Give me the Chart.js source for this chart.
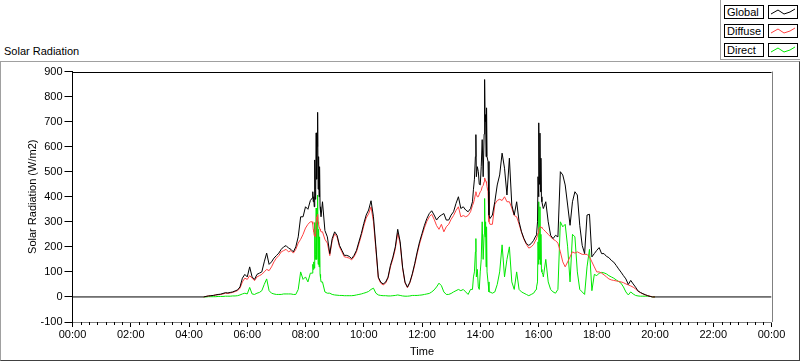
<!DOCTYPE html>
<html><head><meta charset="utf-8">
<script src="https://cdn.jsdelivr.net/npm/chart.js@4.4.0/dist/chart.umd.min.js"></script>
<style>
html,body{margin:0;padding:0;background:#fff;width:800px;height:361px;overflow:hidden;font-family:"Liberation Sans",Arial,sans-serif;font-size:11px;color:#000}
#frame{position:absolute;left:0;top:61px;width:798px;height:298px;border-top:1px solid #a0a0a0;border-left:1px solid #a0a0a0;border-right:1px solid #404040;border-bottom:1px solid #404040}
#title{position:absolute;left:4px;top:45px;line-height:13px;white-space:nowrap}
#legend{position:absolute;left:720px;top:0;width:79px;height:59px;border-left:1px solid #a0a0a0;border-bottom:1px solid #a0a0a0;background:#fff}
.lab{position:absolute;left:3px;width:40px;height:14px;border:1px solid #000;box-sizing:border-box;line-height:12px;padding-left:2px;white-space:nowrap}
.smp{position:absolute;left:47px;width:30px;height:14px;border:1px solid #000;box-sizing:border-box}
.smp svg{position:absolute;left:0;top:0}
#c{position:absolute;left:0;top:0}
</style></head>
<body>
<div id="frame"></div>
<div id="title">Solar Radiation</div>
<div id="legend"></div>
<canvas id="c" width="800" height="361"></canvas>
<script>
// ---- data (W/m2) ----
const seriesNames = ['Global', 'Diffuse', 'Direct'];
const seriesColors = ['#000000', '#ff4040', '#00e800'];
const dayStartMin = 270;   // 04:30
const dayStepMin = 5;      // base sample spacing in minutes
const globalVals = [
  0,2,4,5,6,8,10,11,14,17,16,18,20,24,28,
  40,75,90,80,120,80,70,90,95,100,140,175,130,140,155,
  165,175,190,200,205,195,190,180,200,240,320,320,360,350,385,
  540,650,735,560,380,265,240,173,
  233,260,246,206,186,166,166,162,153,166,186,220,253,293,327,347,384,
  320,200,79,59,52,59,79,126,159,200,270,220,119,59,39,59,92,133,179,220,
  253,286,313,333,344,327,307,320,327,333,307,307,327,340,373,400,
  353,360,347,340,353,450,640,500,447,581,868,568,313,327,380,447,487,574,514,407,
  554,367,327,380,300,260,233,213,206,213,226,246,695,554,353,380,300,246,233,246,
  240,500,487,447,367,286,380,420,407,286,206,173,327,330,160,173,186,197,173,173,
  162,157,146,139,126,112,99,85,72,50,66,52,39,24,18,13,9,5,2,0,0
];
const diffuseVals = [
  0,2,4,5,6,8,9,10,12,15,14,16,18,22,25,
  35,60,75,70,85,75,65,80,85,90,100,110,105,120,140,
  155,165,180,185,190,180,185,175,190,215,230,250,275,290,300,
  260,250,300,280,260,230,215,165,
  225,252,240,200,180,160,158,155,148,160,180,212,245,283,315,332,360,
  300,190,75,55,48,55,75,120,152,192,255,212,115,56,37,56,88,128,172,212,
  245,276,302,320,330,310,285,270,290,260,280,290,310,325,345,360,
  320,325,320,325,340,370,410,400,420,440,475,440,290,290,370,385,390,385,400,380,
  380,355,325,320,290,258,230,210,195,200,210,230,270,280,270,260,250,240,230,225,
  215,180,140,120,140,160,180,175,180,175,170,170,170,160,140,120,100,100,95,88,
  80,72,68,66,64,62,60,57,52,48,44,39,32,23,17,12,8,5,3,0,0
];
const directVals = [
  0,0,1,1,1,1,2,2,2,3,3,3,4,4,5,
  8,12,15,12,38,12,10,15,18,25,50,72,25,15,12,
  10,10,10,12,12,12,12,10,10,30,100,70,80,60,95,
  250,400,430,200,60,20,15,15,
  10,8,7,6,6,5,5,5,5,6,8,10,12,15,18,22,30,
  35,15,8,6,5,5,4,4,5,6,8,6,4,3,3,4,6,6,6,7,
  8,10,12,14,20,28,40,55,45,20,10,10,14,20,25,30,
  25,30,20,10,30,100,233,30,100,400,300,100,20,15,20,50,100,208,80,150,
  200,60,30,100,30,20,15,10,5,10,15,30,380,200,100,150,60,30,20,15,
  30,300,280,290,200,60,250,240,100,30,20,10,120,190,25,90,85,95,98,96,
  92,85,80,75,68,62,55,40,20,8,20,12,6,4,3,3,3,3,2,0,0
];
// finer readings inside the spiky bursts; they replace the base samples in these windows
const burstWindows = [['08:14', '08:32'], ['13:44', '14:18'], ['15:56', '16:10']];
const burstTimes = [
  '08:14','08:15','08:16','08:17','08:18','08:19','08:20','08:21','08:22','08:23','08:24','08:25','08:26','08:27','08:28','08:29','08:30','08:31','08:32',
  '13:44','13:46','13:48','13:50','13:51','13:52','13:54','13:56','13:58','14:00','14:02','14:04','14:06','14:08','14:09','14:10','14:11','14:12','14:13','14:14','14:16','14:18',
  '15:56','15:58','15:59','16:00','16:01','16:02','16:03','16:04','16:05','16:06','16:07','16:09','16:10'
];
const burstGlobal = [
  395,420,380,400,360,547,390,430,655,470,600,737,430,560,400,520,360,340,320,
  380,430,470,560,648,480,520,500,450,447,520,628,480,650,868,700,728,560,755,560,541,327,
  250,300,480,400,695,450,654,420,554,400,380,360,353
];
const burstDiffuse = [
  300,290,270,260,245,250,240,260,300,320,310,330,300,290,280,280,270,265,260,
  365,375,390,410,420,410,400,400,410,420,425,440,445,460,475,470,470,460,455,440,420,300,
  235,245,255,265,270,275,280,280,280,278,275,272,270
];
const burstDirect = [
  95,130,110,140,115,297,150,170,355,150,290,407,130,270,120,240,90,75,60,
  30,80,100,180,233,80,110,40,30,100,150,300,150,250,393,240,300,120,280,100,60,20,
  40,60,220,130,380,150,360,130,250,110,100,90,80
];
const nightGlobal = [[0, 0], [1440, 0]]; // [minute, W/m2] at midnight
const xTickStepMin = 120;
const xMinorPerMajor = 7;
const yTicks = [-100,0,100,200,300,400,500,600,700,800,900];

// ---- build ----
const toMin = s => { const [h, m] = s.split(':').map(Number); return h * 60 + m; };
const dayTimes = globalVals.map((_, i) => dayStartMin + i * dayStepMin);
const burstMin = burstTimes.map(toMin);
const windows = burstWindows.map(w => w.map(toMin));
const inBurst = t => windows.some(([lo, hi]) => t >= lo && t <= hi);
function merge(base, burst) {
  const pts = [];
  base.forEach((v, i) => { const t = dayTimes[i]; if (!inBurst(t)) pts.push({x: t, y: v}); });
  burst.forEach((v, i) => pts.push({x: burstMin[i], y: v}));
  return pts.sort((a, b) => a.x - b.x);
}
const globalData = [{x: nightGlobal[0][0], y: nightGlobal[0][1]}, ...merge(globalVals, burstGlobal), {x: nightGlobal[1][0], y: nightGlobal[1][1]}];

// legend (HTML)
const leg = document.getElementById('legend');
const legTops = [5, 24, 43];
seriesNames.forEach((n, k) => {
  const l = document.createElement('div'); l.className = 'lab'; l.style.top = legTops[k] + 'px'; l.textContent = n; leg.appendChild(l);
  const s = document.createElement('div'); s.className = 'smp'; s.style.top = legTops[k] + 'px';
  s.innerHTML = '<svg width="28" height="12"><polyline points="2,8 9,4 15,8 21,6 26,3" fill="none" stroke="' + seriesColors[k] + '" stroke-width="1"/></svg>';
  leg.appendChild(s);
});

const fmt = v => { const h = Math.round(v / 60) % 24; return (h < 10 ? '0' : '') + h + ':00'; };

const framePlugin = {
  id: 'frame',
  afterDraw(chart) {
    const {ctx, chartArea: a} = chart;
    const xs = chart.scales.x;
    ctx.save();
    ctx.lineWidth = 1;
    ctx.strokeStyle = '#000';
    ctx.beginPath(); ctx.moveTo(a.left, Math.round(a.top) + 0.5); ctx.lineTo(a.right, Math.round(a.top) + 0.5); ctx.stroke();
    ctx.strokeStyle = '#808080';
    ctx.beginPath(); ctx.moveTo(Math.round(a.right) + 0.5, a.top); ctx.lineTo(Math.round(a.right) + 0.5, a.bottom); ctx.stroke();
    ctx.strokeStyle = '#000';
    const minorStep = xTickStepMin / xMinorPerMajor;
    const n = Math.round((xs.max - xs.min) / minorStep);
    for (let k = 0; k <= n; k++) {
      if (k % xMinorPerMajor === 0) continue;
      const px = Math.round(xs.getPixelForValue(xs.min + k * minorStep)) + 0.5;
      ctx.beginPath(); ctx.moveTo(px, a.bottom); ctx.lineTo(px, a.bottom + 3); ctx.stroke();
    }
    ctx.restore();
  }
};

const F = {family: '"Liberation Sans", Arial, sans-serif', size: 11};
new Chart(document.getElementById('c'), {
  type: 'line',
  data: {
    datasets: [
      {label: seriesNames[0], data: globalData, borderColor: seriesColors[0]},
      {label: seriesNames[1], data: merge(diffuseVals, burstDiffuse), borderColor: seriesColors[1]},
      {label: seriesNames[2], data: merge(directVals, burstDirect), borderColor: seriesColors[2]}
    ]
  },
  options: {
    responsive: false,
    animation: false,
    layout: {padding: {left: 22, top: 71.5, right: 28.5, bottom: 0}},
    elements: {point: {radius: 0}, line: {borderWidth: 1, tension: 0, fill: false}},
    plugins: {legend: {display: false}, tooltip: {enabled: false}},
    scales: {
      x: {
        type: 'linear', min: 0, max: 1440,
        ticks: {stepSize: xTickStepMin, callback: fmt, maxRotation: 0, autoSkip: false, padding: 1, color: '#000', font: F},
        grid: {drawOnChartArea: false, drawTicks: true, tickLength: 5, tickColor: '#000', tickWidth: 1},
        border: {color: '#808080', width: 1},
        title: {display: true, text: 'Time', color: '#000', padding: {top: 0, bottom: 2}, font: F},
        afterFit: s => { s.height = 39; }
      },
      y: {
        type: 'linear', min: -100, max: 900,
        afterBuildTicks: s => { s.ticks = yTicks.map(v => ({value: v})); },
        ticks: {padding: 2, color: '#000', font: F},
        grid: {drawOnChartArea: false, drawTicks: true, tickLength: 8, tickColor: '#000', tickWidth: 1},
        border: {color: '#000', width: 1},
        title: {display: true, text: 'Solar Radiation (W/m2)', color: '#000', padding: {top: 4, bottom: 0}, font: F},
        afterFit: s => { s.width = 50.5; }
      }
    }
  },
  plugins: [framePlugin]
});
</script>
</body></html>
